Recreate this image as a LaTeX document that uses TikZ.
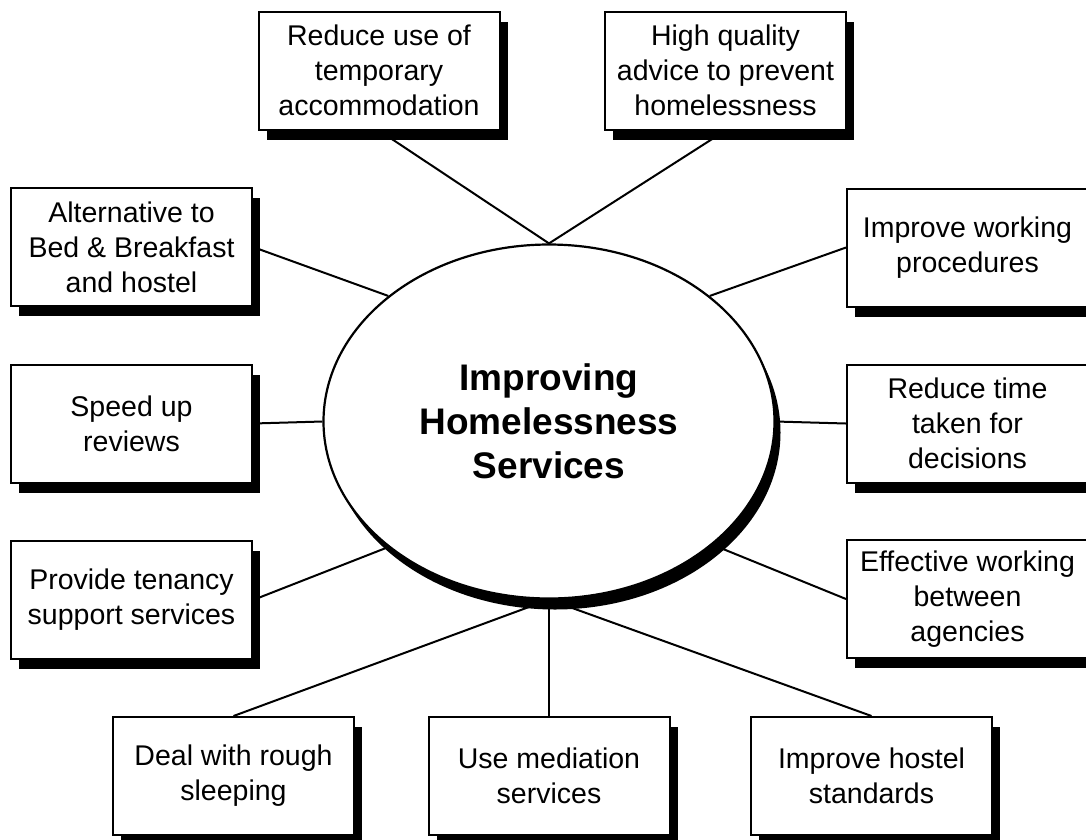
\documentclass[tikz,border=0pt]{standalone}
\usepackage{fontspec}
\setmainfont{Liberation Sans}
\usetikzlibrary{shapes.geometric,shadows}
\pgfdeclarelayer{bg}
\pgfsetlayers{bg,main}
\begin{document}
\begin{tikzpicture}[x=1pt,y=-1pt,
  goalbox/.style={draw=black, line width=2pt, fill=white, rectangle,
    minimum width=241pt, minimum height=118pt, inner sep=0pt, align=center,
    font=\fontsize{28.5}{35}\selectfont,
    drop shadow={shadow xshift=8pt, shadow yshift=-10pt, opacity=1, fill=black}},
  hub/.style={draw=black, line width=2.2pt, fill=white, ellipse,
    minimum width=451pt, minimum height=354pt, inner sep=0pt, align=center,
    font=\fontsize{37}{44}\selectfont\bfseries,
    drop shadow={shadow xshift=6pt, shadow yshift=-11pt, opacity=1, fill=black}},
  link/.style={draw=black, line width=2pt}]
\useasboundingbox (0,0) rectangle (1086,839);

\node[hub] (ell) at (549,421.5) {Improving\\Homelessness\\Services};

\node[goalbox] (A) at (379,70.5) {Reduce use of\\temporary\\accommodation};
\node[goalbox] (B) at (725.5,70.5) {High quality\\advice to prevent\\homelessness};
\node[goalbox] (C) at (131.5,247) {Alternative to\\Bed \& Breakfast\\and hostel};
\node[goalbox] (D) at (967.5,247.5) {Improve working\\procedures};
\node[goalbox] (E) at (131.5,423.5) {Speed up\\reviews};
\node[goalbox] (F) at (967.5,423.5) {Reduce time\\taken for\\decisions};
\node[goalbox] (G) at (131.5,600) {Provide tenancy\\support services};
\node[goalbox] (H) at (967.5,599) {Effective working\\between\\agencies};
\node[goalbox] (I) at (233.5,776) {Deal with rough\\sleeping};
\node[goalbox] (J) at (549,776) {Use mediation\\services};
\node[goalbox] (K) at (871.5,776) {Improve hostel\\standards};

\begin{pgfonlayer}{bg}
\draw[link] (A.south) -- (ell.north);
\draw[link] (B.south) -- (ell.north);
\draw[link] (C.east) -- (ell.142);
\draw[link] (D.west) -- (ell.38);
\draw[link] (E.east) -- (ell.west);
\draw[link] (F.west) -- (ell.east);
\draw[link] (G.east) -- (ell.218);
\draw[link] (H.west) -- (ell.323);
\draw[link] (I.north) -- (ell.south);
\draw[link] (J.north) -- (ell.south);
\draw[link] (K.north) -- (ell.south);
\end{pgfonlayer}
\end{tikzpicture}
\end{document}
